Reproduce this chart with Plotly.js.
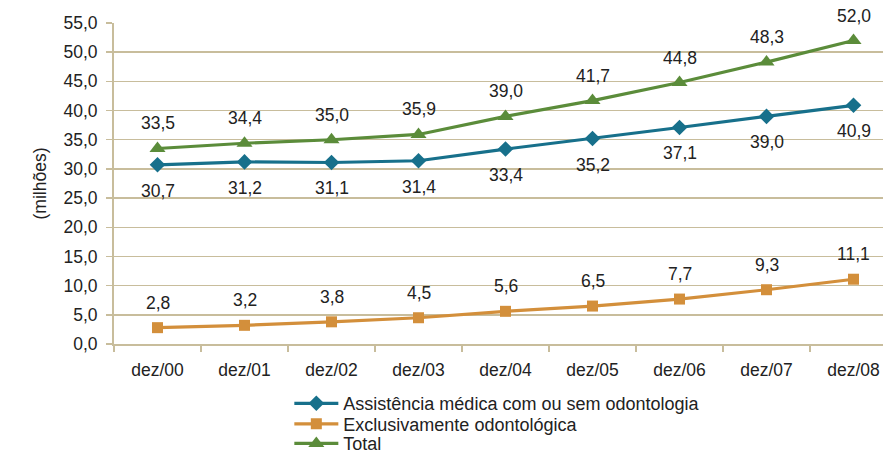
<!DOCTYPE html>
<html>
<head>
<meta charset="utf-8">
<script src="https://cdn.plot.ly/plotly-3.0.1.min.js"></script>
<style>html,body{margin:0;padding:0;background:#fff;}#chart{width:883px;height:454px;}</style>
</head>
<body>
<div id="chart"></div>
<script>
const categories = ["dez/00","dez/01","dez/02","dez/03","dez/04","dez/05","dez/06","dez/07","dez/08"];
const assistencia = [30.7,31.2,31.1,31.4,33.4,35.2,37.1,39.0,40.9];
const odonto = [2.8,3.2,3.8,4.5,5.6,6.5,7.7,9.3,11.1];
const total = [33.5,34.4,35.0,35.9,39.0,41.7,44.8,48.3,52.0];
const seriesNames = ["Assistência médica com ou sem odontologia","Exclusivamente odontológica","Total"];
const yTicks = [0,5,10,15,20,25,30,35,40,45,50,55];

const colors = ["#17708b","#d38f3b","#5b8c3a"];
const symbols = ["diamond","square","triangle-up"];
const sizes = [12,11,14];
const labelShift = [-26, 25, 25];
const legendIds = ["legend","legend2","legend3"];
const legendY = [-0.128, -0.192, -0.253];
const FONT = "Liberation Sans, Arial, sans-serif";
const fs = 17.5;
const gridColor = "#c8bd9c";

const seriesData = [assistencia, odonto, total];
const traces = seriesData.map((vals,i)=>({
  type:"scatter", mode:"lines+markers", name:seriesNames[i],
  x:categories, y:vals, legend:legendIds[i],
  line:{color:colors[i], width:3.2},
  marker:{color:colors[i], symbol:symbols[i], size:sizes[i]},
  cliponaxis:false
}));

const fmt = v => v.toFixed(1).replace(".", ",");
const annotations = [];
seriesData.forEach((vals,i)=>{
  vals.forEach((v,j)=>{
    annotations.push({x:categories[j], y:v, xref:"x", yref:"y", text:fmt(v),
      showarrow:false, yshift:labelShift[i], font:{family:FONT,size:fs,color:"#222"}});
  });
});

const layout = {
  width:883, height:454,
  margin:{l:114, r:0, t:23, b:110, autoexpand:false},
  paper_bgcolor:"#fff", plot_bgcolor:"#fff",
  separators:",.",
  showlegend:true,
  xaxis:{type:"category", range:[-0.5, 8.339], showgrid:false, tickson:"boundaries",
    ticks:"outside", ticklen:6, tickcolor:gridColor, tickwidth:2,
    showline:true, linecolor:gridColor, linewidth:2, zeroline:false,
    ticklabelstandoff:9,
    tickfont:{family:FONT,size:fs,color:"#222"}},
  yaxis:{range:[0,55], tickvals:yTicks, ticktext:yTicks.map(fmt),
    showgrid:true, gridcolor:gridColor, gridwidth:1.5,
    ticks:"outside", ticklen:6, tickcolor:gridColor, tickwidth:1.5,
    showline:true, linecolor:gridColor, linewidth:2, zeroline:false,
    ticklabelstandoff:5,
    tickfont:{family:FONT,size:fs,color:"#222"},
    title:{text:"(milhões)", font:{family:FONT,size:fs,color:"#222"}, standoff:12}},
  annotations:annotations
};
legendIds.forEach((id,i)=>{
  layout[id] = {x:0.228, xanchor:"left", y:legendY[i], yanchor:"top", orientation:"v",
    itemwidth:44, font:{family:FONT,size:18,color:"#222"}, bgcolor:"rgba(0,0,0,0)"};
});

Plotly.newPlot("chart", traces, layout, {displayModeBar:false, staticPlot:true});
</script>
</body>
</html>
